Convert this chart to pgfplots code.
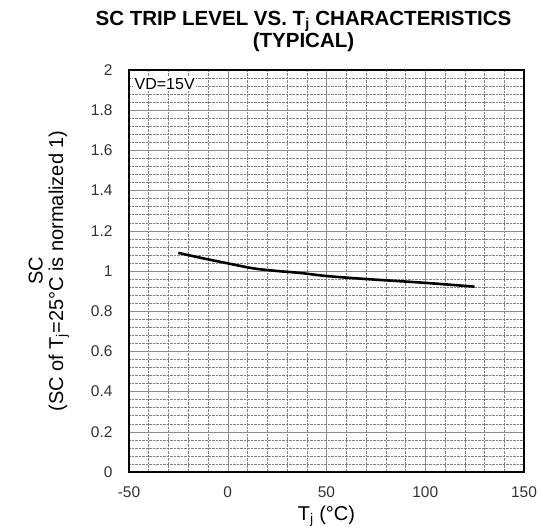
\documentclass[border=0pt]{standalone}
\usepackage{pgfplots}
\pgfplotsset{compat=1.18}
\usepackage{fontspec}
\setmainfont{Liberation Sans}

\begin{document}
\begin{tikzpicture}
\useasboundingbox (-129pt,-57pt) rectangle (414pt,472pt);
\begin{axis}[
    at={(0,0)}, anchor=south west,
    scale only axis,
    width=395pt, height=402pt,
    xmin=-50, xmax=150, ymin=0, ymax=2,
    xtick={-50,0,50,100,150},
    ytick={0,0.2,...,2},
    minor x tick num=4,
    minor y tick num=4,
    major tick length=0pt, minor tick length=0pt,
    grid=both,
    major grid style={black!45, line width=0.5pt},
    minor grid style={black!50, densely dotted, line width=0.5pt},
    axis line style={black, line width=1.2pt},
    tick label style={font=\fontsize{15.5}{17}\selectfont, text=black!80},
    /pgf/number format/assume math mode=true,
    yticklabel style={/pgf/number format/fixed, xshift=-13pt},
    xticklabel style={yshift=-11pt},
    xlabel={T\textsubscript{j} (°C)},
    xlabel style={font=\fontsize{20}{22}\selectfont, at={(axis description cs:0.5,0)}, anchor=center, yshift=-44pt},
    ylabel={SC\\(SC of T\textsubscript{j}=25°C is normalized 1)},
    ylabel style={font=\fontsize{20}{20.5}\selectfont, align=center, at={(axis description cs:-0.203,0.5)}, anchor=center, rotate=0},
]
\addplot[black, line width=2.6pt, smooth] coordinates {
(-25,1.090)
(-12,1.062)
(0,1.038)
(13,1.013)
(25,1.000)
(37,0.990)
(50,0.975)
(70,0.960)
(100,0.941)
(125,0.922)
};
\node[anchor=west, fill=white, inner sep=1.5pt, font=\fontsize{16}{18}\selectfont] at (axis cs:-48,1.932) {VD=15V};
\end{axis}
\node[font=\bfseries\fontsize{20.5}{19.5}\selectfont, align=center] at (174.5pt,440.5pt) {SC TRIP LEVEL VS. T\textsubscript{j} CHARACTERISTICS\\(TYPICAL)};
\end{tikzpicture}
\end{document}
